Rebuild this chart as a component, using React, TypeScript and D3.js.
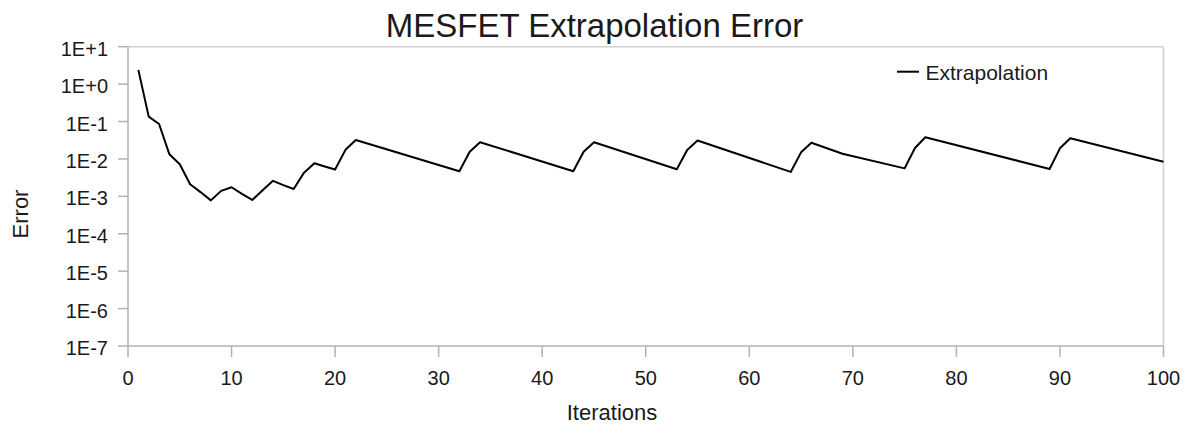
import React from "react";
import * as d3 from "d3";

const iterations = [1, 2, 3, 4, 5, 6, 7, 8, 9, 10, 11, 12, 13, 14, 15, 16, 17, 18, 19, 20, 21, 22,
  32, 33, 34, 43, 44, 45, 53, 54, 55, 64, 65, 66, 69, 75, 76, 77, 89, 90, 91, 100];
const errors = [2.4, 0.135, 0.086, 0.0133, 0.0072, 0.0021, 0.0013, 0.00078, 0.0014, 0.00175, 0.00117, 0.0008,
  0.00145, 0.0026, 0.002, 0.00157, 0.0043, 0.0077, 0.0063, 0.0052, 0.0175, 0.032,
  0.0047, 0.0156, 0.028, 0.0047, 0.0156, 0.028, 0.0053, 0.0173, 0.031,
  0.0045, 0.015, 0.027, 0.0138, 0.0056, 0.0196, 0.038, 0.0054, 0.0192, 0.0356, 0.0084];
const xTicks = [0, 10, 20, 30, 40, 50, 60, 70, 80, 90, 100];
const yTicks = [1e1, 1e0, 1e-1, 1e-2, 1e-3, 1e-4, 1e-5, 1e-6, 1e-7];
const yTickLabels = ["1E+1", "1E+0", "1E-1", "1E-2", "1E-3", "1E-4", "1E-5", "1E-6", "1E-7"];
const title = "MESFET Extrapolation Error";
const seriesName = "Extrapolation";
const xTitle = "Iterations";
const yTitle = "Error";

const W = 1189;
const H = 426;
const L = 128, R = 1163.5, T = 46.7, B = 346;
const FONT = "'Liberation Sans', Arial, sans-serif";

export default function App() {
  const x = d3.scaleLinear().domain([0, 100]).range([L, R]);
  const y = d3.scaleLog().domain([1e-7, 10]).range([B, T]);
  const pts: [number, number][] = iterations.map((it, i) => [it, errors[i]]);
  const line = d3.line<[number, number]>().x(d => x(d[0])).y(d => y(d[1]));
  const axisCol = "#b3b3b3";
  const frameCol = "#cfcfcf";
  const textCol = "#1a1a1a";
  return (
    <svg width={W} height={H} style={{ position: "absolute", left: 0, top: 0, background: "#fff" }}>
      <rect x={0} y={0} width={W} height={H} fill="#fff" />
      <text x={594.5} y={37} textAnchor="middle" fontFamily={FONT} fontSize={33} fill={textCol}>{title}</text>
      <line x1={L} x2={R} y1={T} y2={T} stroke={frameCol} strokeWidth={1.5} />
      <line x1={R} x2={R} y1={T} y2={B} stroke={frameCol} strokeWidth={1.5} />
      <line x1={L} x2={L} y1={T} y2={B} stroke={axisCol} strokeWidth={1.5} />
      <line x1={L} x2={R} y1={B} y2={B} stroke={axisCol} strokeWidth={1.5} />
      {yTicks.map((t, i) => (
        <g key={"y" + i}>
          <line x1={L - 10} x2={L} y1={y(t)} y2={y(t)} stroke={axisCol} strokeWidth={1.5} />
          <text x={L - 20} y={y(t) + 9} textAnchor="end" fontFamily={FONT} fontSize={20} fill={textCol}>{yTickLabels[i]}</text>
        </g>
      ))}
      {xTicks.map((t, i) => (
        <g key={"x" + i}>
          <line x1={x(t)} x2={x(t)} y1={B} y2={B + 11} stroke={axisCol} strokeWidth={1.5} />
          <text x={x(t)} y={385} textAnchor="middle" fontFamily={FONT} fontSize={20} fill={textCol}>{t}</text>
        </g>
      ))}
      <text x={612} y={420} textAnchor="middle" fontFamily={FONT} fontSize={22} fill={textCol}>{xTitle}</text>
      <text transform={`translate(28,214) rotate(-90)`} textAnchor="middle" fontFamily={FONT} fontSize={22} fill={textCol}>{yTitle}</text>
      <path d={line(pts) || ""} fill="none" stroke="#000" strokeWidth={2} strokeLinejoin="round" />
      <line x1={897} x2={919} y1={71.7} y2={71.7} stroke="#000" strokeWidth={2} />
      <text x={925.5} y={80} fontFamily={FONT} fontSize={21} fill={textCol}>{seriesName}</text>
    </svg>
  );
}
